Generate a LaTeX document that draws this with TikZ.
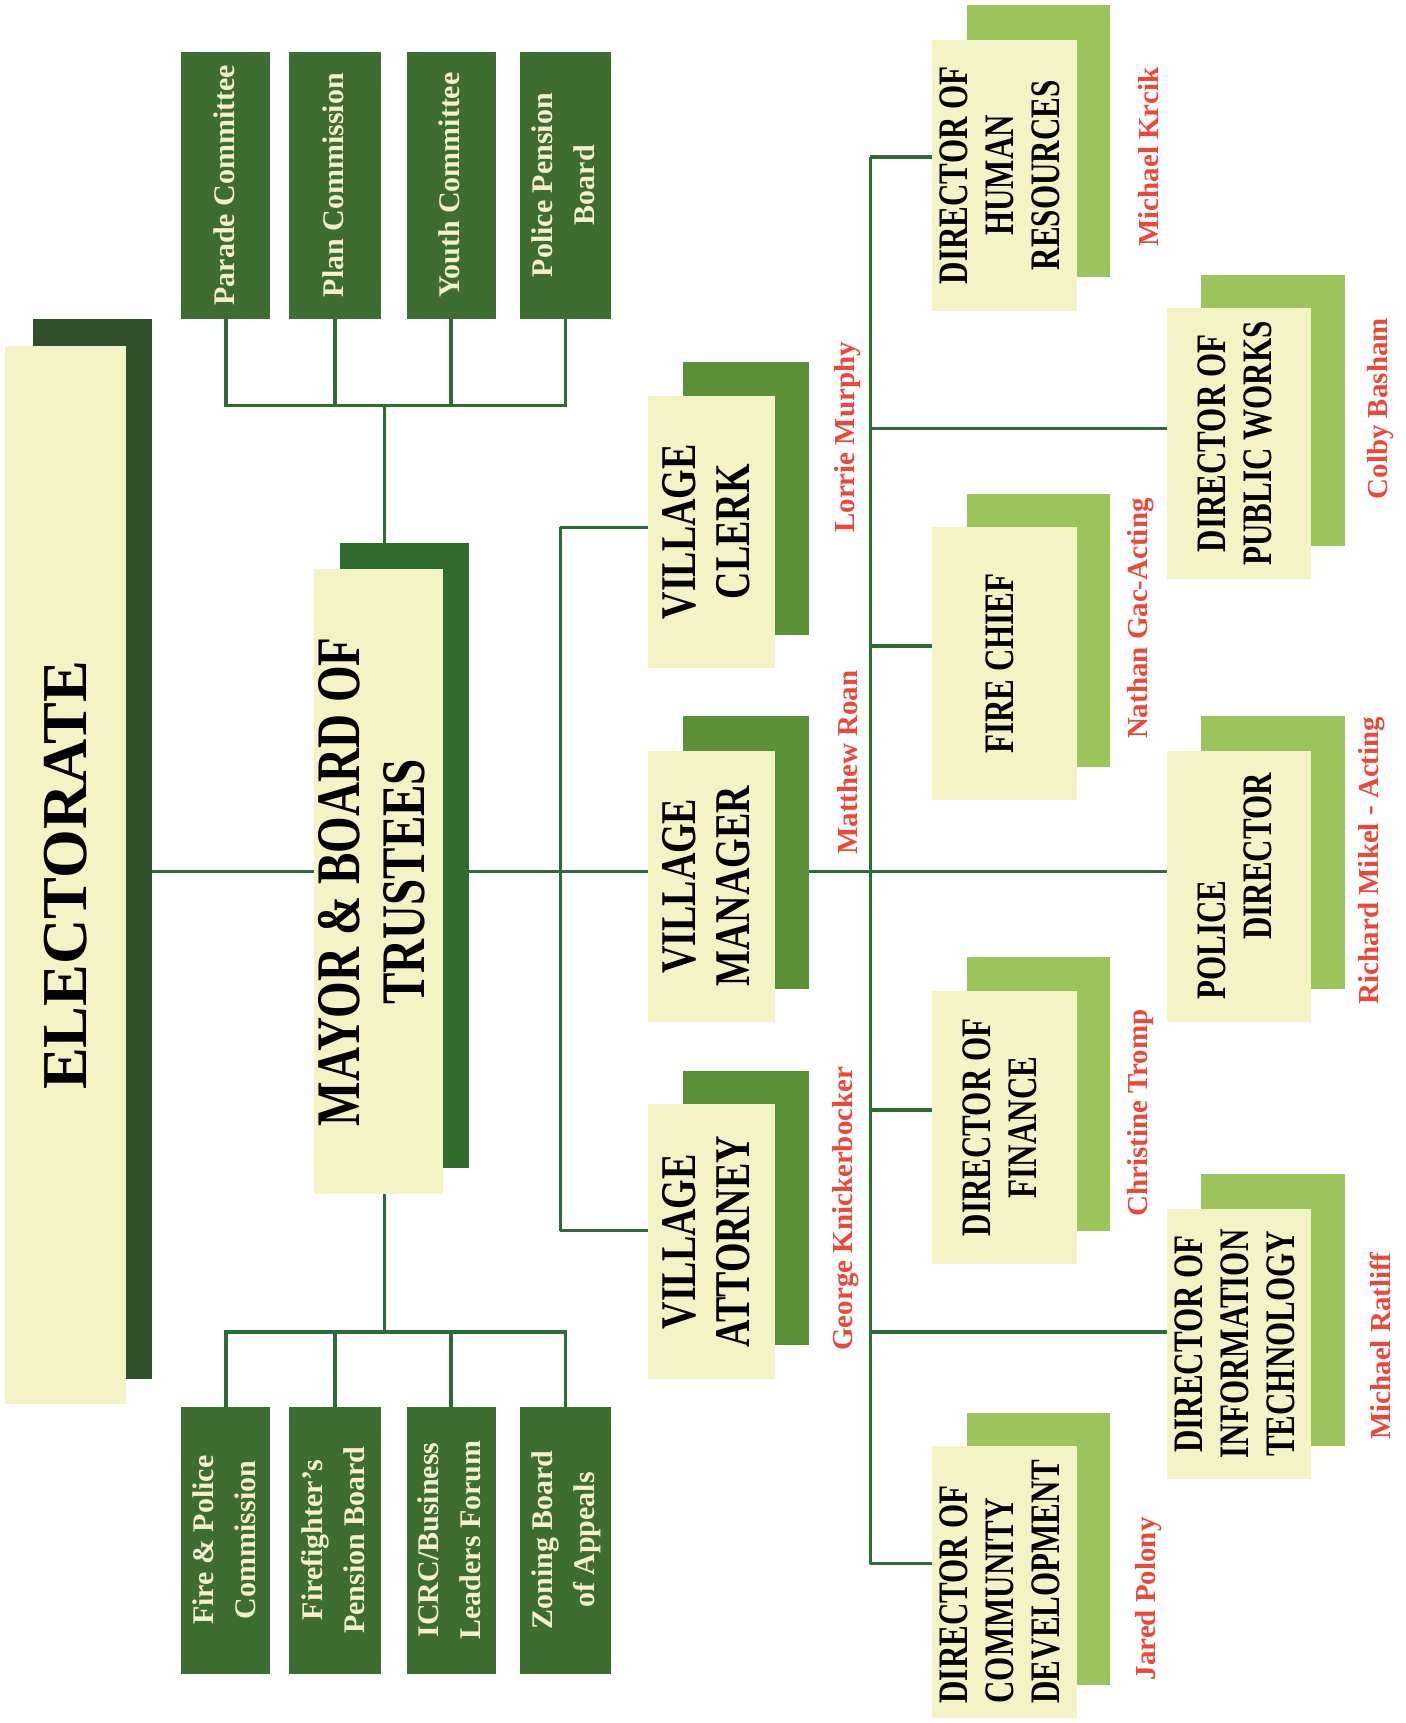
\documentclass[tikz,border=0pt]{standalone}
\usepackage{fontspec}
\usepackage{graphicx}
\setmainfont{Liberation Serif}
\newfontfamily\elecfont{Liberation Serif}[FakeStretch=0.98]
\newfontfamily\condfont{Liberation Serif}[FakeStretch=0.76]
\newfontfamily\dirfont{Liberation Serif}[FakeStretch=0.74]
\definecolor{creamC}{HTML}{F4F3C6}
\definecolor{elecG}{HTML}{30502A}
\definecolor{mayorG}{HTML}{2F6A2F}
\definecolor{commG}{HTML}{3D6D30}
\definecolor{villG}{HTML}{5C9138}
\definecolor{dirG}{HTML}{9CC45C}
\definecolor{lineG}{HTML}{2E6B38}
\definecolor{nameR}{HTML}{E9483B}
\definecolor{commT}{HTML}{F4EFCF}
\newcommand\mybox[7]{%
  \pgfmathsetmacro\mbw{(#4-#2)*0.55}%
  \pgfmathsetmacro\mbh{(#5-#3)*0.55}%
  \node[#6, minimum width=\mbw pt, minimum height=\mbh pt] (#1) at ({(#2+#4)/2},{(#3+#5)/2}) {#7};}
\newcommand\rt[2]{\rotatebox{90}{\begin{tabular}{@{}#1@{}}#2\end{tabular}}}
\begin{document}
\begin{tikzpicture}[x=0.55pt,y=-0.55pt,
  conn/.style={draw=lineG, line width=1.7pt},
  cream/.style={fill=creamC, inner sep=0pt, outer sep=0pt, text=black},
  shd/.style={inner sep=0pt, outer sep=0pt},
  comm/.style={fill=commG, inner sep=0pt, outer sep=0pt, text=commT, font=\fontsize{15}{21}\selectfont\bfseries},
  elecT/.style={font=\fontsize{32}{34}\elecfont\bfseries},
  mayT/.style={font=\fontsize{31}{32.5}\condfont\bfseries},
  vilT/.style={font=\fontsize{25}{27.5}\condfont\bfseries},
  dirT/.style={font=\fontsize{21}{23}\dirfont\bfseries},
  pname/.style={text=nameR, font=\fontsize{14.5}{16}\selectfont\bfseries, rotate=90, inner sep=0pt}]
\fill[white] (0,0) rectangle (1279,1568);
\useasboundingbox (0,0) rectangle (1279,1568);
% shadows
\mybox{elecS}{30}{290}{138}{1255}{shd, fill=elecG}{}
\mybox{mayorS}{309}{494}{427}{1063}{shd, fill=mayorG}{}
\mybox{vclerkS}{622}{329}{736}{578}{shd, fill=villG}{}
\mybox{vmanS}{622}{652}{736}{900}{shd, fill=villG}{}
\mybox{vattS}{622}{975}{736}{1224}{shd, fill=villG}{}
\mybox{hrS}{880}{5}{1010}{252}{shd, fill=dirG}{}
\mybox{fireS}{880}{450}{1010}{698}{shd, fill=dirG}{}
\mybox{finS}{880}{871}{1010}{1120}{shd, fill=dirG}{}
\mybox{cdS}{880}{1286}{1010}{1533}{shd, fill=dirG}{}
\mybox{pwS}{1093}{250}{1224}{497}{shd, fill=dirG}{}
\mybox{policeS}{1093}{652}{1224}{900}{shd, fill=dirG}{}
\mybox{itS}{1093}{1068}{1224}{1316}{shd, fill=dirG}{}
% main boxes
\mybox{elec}{5}{315}{115}{1278}{cream, elecT}{\rotatebox{90}{ELECTORATE}}
\mybox{mayor}{287}{518}{402}{1087}{cream, mayT}{\rt{c}{MAYOR \& BOARD OF\\TRUSTEES}}
\mybox{vclerk}{590}{360}{705}{608}{cream, vilT}{\rt{c}{VILLAGE\\CLERK}}
\mybox{vman}{590}{683}{705}{930}{cream, vilT}{\rt{c}{VILLAGE\\MANAGER}}
\mybox{vatt}{590}{1005}{705}{1255}{cream, vilT}{\rt{c}{VILLAGE\\ATTORNEY}}
\mybox{hr}{848}{36}{980}{283}{cream, dirT}{\rt{c}{DIRECTOR OF\\HUMAN\\RESOURCES}}
\mybox{fire}{848}{480}{980}{728}{cream, dirT}{\rt{c}{FIRE CHIEF}}
\mybox{fin}{848}{902}{980}{1150}{cream, dirT}{\rt{c}{DIRECTOR OF\\FINANCE}}
\mybox{cd}{848}{1316}{980}{1563}{cream, dirT}{\rt{l}{DIRECTOR OF\\COMMUNITY\\DEVELOPMENT}}
\mybox{pw}{1062}{280}{1193}{527}{cream, dirT}{\rt{c}{DIRECTOR OF\\PUBLIC WORKS}}
\mybox{police}{1062}{683}{1193}{930}{cream, dirT}{\rt{l}{POLICE\\\hspace{30pt}DIRECTOR}}
\mybox{it}{1062}{1100}{1193}{1346}{cream, dirT}{\rt{c}{DIRECTOR OF\\INFORMATION\\TECHNOLOGY}}
% committees
\mybox{t1}{165}{47}{246}{290}{comm}{\rt{c}{Parade Committee}}
\mybox{t2}{263}{47}{347}{290}{comm}{\rt{c}{Plan Commission}}
\mybox{t3}{370}{47}{451}{290}{comm}{\rt{c}{Youth Committee}}
\mybox{t4}{473}{47}{556}{290}{comm}{\rt{c}{Police Pension\\Board}}
\mybox{b1}{165}{1280}{246}{1523}{comm}{\rt{c}{Fire \& Police\\Commission}}
\mybox{b2}{263}{1280}{347}{1523}{comm}{\rt{c}{Firefighter’s\\Pension Board}}
\mybox{b3}{370}{1280}{451}{1523}{comm}{\rt{c}{ICRC/Business\\Leaders Forum}}
\mybox{b4}{473}{1280}{556}{1523}{comm}{\rt{c}{Zoning Board\\of Appeals}}
% names
\node[pname] (nLM) at (771,398) {Lorrie Murphy};
\node[pname] (nMR) at (771,694) {Matthew Roan};
\node[pname] (nGK) at (770,1100) {George Knickerbocker};
\node[pname] (nMK) at (1045,143) {Michael Krcik};
\node[pname] (nNG) at (1038,563) {Nathan Gac-Acting};
\node[pname] (nCT) at (1038,1013) {Christine Tromp};
\node[pname] (nJP) at (1045,1455) {Jared Polony};
\node[pname] (nCB) at (1256,372) {Colby Basham};
\node[pname] (nRM) at (1248,783) {Richard Mikel - Acting};
\node[pname] (nMRa) at (1256,1225) {Michael Ratliff};
% connectors
\coordinate (rowM) at (0,793);
\draw[conn] (elecS.east |- rowM) -- (mayor.west |- rowM);
\coordinate (topbus) at (350,369);
\draw[conn] (t1.south) |- (topbus);
\draw[conn] (t4.south) |- (topbus);
\draw[conn] (t2.south) -- (t2.south |- topbus);
\draw[conn] (t3.south) -- (t3.south |- topbus);
\draw[conn] (topbus) -- (topbus |- mayorS.north);
\coordinate (botbus) at (350,1212);
\draw[conn] (b1.north) |- (botbus);
\draw[conn] (b4.north) |- (botbus);
\draw[conn] (b2.north) -- (b2.north |- botbus);
\draw[conn] (b3.north) -- (b3.north |- botbus);
\draw[conn] (botbus) -- (botbus |- mayor.south);
\coordinate (bus1top) at (510,480);
\coordinate (bus1bot) at (510,1120);
\draw[conn] (mayorS.east |- rowM) -- (vman.west |- rowM);
\draw[conn] (bus1top) -- (bus1bot);
\draw[conn] (bus1top) -- (vclerk.west |- bus1top);
\draw[conn] (bus1bot) -- (vatt.west |- bus1bot);
\draw[conn] (vmanS.east |- rowM) -- (police.west |- rowM);
\coordinate (bus2top) at (792,143);
\coordinate (bus2bot) at (792,1423);
\coordinate (yPW) at (0,390);
\coordinate (yFire) at (0,588);
\coordinate (yFin) at (0,1010);
\coordinate (yIT) at (0,1212);
\draw[conn] (bus2top) -- (bus2bot);
\draw[conn] (bus2top) -- (hr.west |- bus2top);
\draw[conn] (bus2bot) -- (cd.west |- bus2bot);
\draw[conn] (bus2top |- yPW) -- (pw.west |- yPW);
\draw[conn] (bus2top |- yFire) -- (fire.west |- yFire);
\draw[conn] (bus2top |- yFin) -- (fin.west |- yFin);
\draw[conn] (bus2top |- yIT) -- (it.west |- yIT);
\end{tikzpicture}
\end{document}
